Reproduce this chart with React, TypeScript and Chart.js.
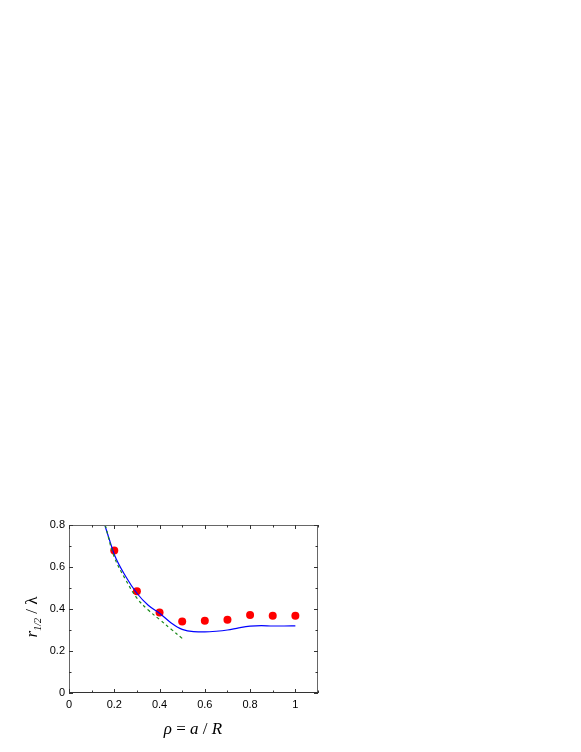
import React, { useEffect, useRef } from "react";
import Chart from "chart.js/auto";

const xTickLabels = ["0", "0.2", "0.4", "0.6", "0.8", "1"];
const yTickLabels = ["0", "0.2", "0.4", "0.6", "0.8"];

const dotX = [0.2, 0.3, 0.4, 0.5, 0.6, 0.7, 0.8, 0.9, 1.0];
const dotY = [0.678, 0.484, 0.383, 0.341, 0.344, 0.349, 0.372, 0.368, 0.368];

const blueX = [0.158, 0.18, 0.2, 0.25, 0.3, 0.35, 0.4, 0.45, 0.5, 0.55, 0.6, 0.65, 0.7, 0.75, 0.8, 0.85, 0.9, 0.95, 1.0];
const blueY = [0.8, 0.725, 0.66, 0.556, 0.475, 0.418, 0.38, 0.335, 0.303, 0.292, 0.291, 0.294, 0.3, 0.31, 0.318, 0.321, 0.319, 0.319, 0.32];

const greenX = [0.16, 0.2, 0.25, 0.3, 0.35, 0.4, 0.45, 0.5];
const greenY = [0.8, 0.648, 0.54, 0.452, 0.395, 0.35, 0.305, 0.26];

const toPts = (xs: number[], ys: number[]) => xs.map((x, i) => ({ x, y: ys[i] }));

const framePlugin = {
  id: "frameTicks",
  afterDraw(chart: any) {
    const { ctx, chartArea: a, scales } = chart;
    const xs = scales.x;
    const ys = scales.y;
    ctx.save();
    ctx.strokeStyle = "#666";
    ctx.lineWidth = 1;
    ctx.strokeRect(a.left + 0.5, a.top + 0.5, a.right - a.left - 1, a.bottom - a.top - 1);
    ctx.strokeStyle = "#333";
    ctx.beginPath();
    ctx.moveTo(a.left, a.bottom - 0.5);
    ctx.lineTo(a.right, a.bottom - 0.5);
    for (let i = 0; i <= 11; i++) {
      const px = Math.round(xs.getPixelForValue(i / 10)) + 0.5;
      const len = i % 2 === 0 ? 4 : 2.5;
      ctx.moveTo(px, a.bottom);
      ctx.lineTo(px, a.bottom - len);
      ctx.moveTo(px, a.top);
      ctx.lineTo(px, a.top + len);
    }
    for (let i = 0; i <= 8; i++) {
      const py = Math.round(ys.getPixelForValue(i / 10)) + 0.5;
      const len = i % 2 === 0 ? 4 : 2.5;
      ctx.moveTo(a.left, py);
      ctx.lineTo(a.left + len, py);
      ctx.moveTo(a.right, py);
      ctx.lineTo(a.right - len, py);
    }
    ctx.stroke();

    // x title
    ctx.fillStyle = "#000";
    ctx.textBaseline = "alphabetic";
    const xParts = [
      { t: "ρ", f: "italic 17px 'Liberation Serif'" },
      { t: " = ", f: "17px 'Liberation Serif'" },
      { t: "a", f: "italic 17px 'Liberation Serif'" },
      { t: " / ", f: "17px 'Liberation Serif'" },
      { t: "R", f: "italic 17px 'Liberation Serif'" },
    ];
    let tw = 0;
    for (const p of xParts) { ctx.font = p.f; tw += ctx.measureText(p.t).width; }
    let cx = 193 - tw / 2;
    for (const p of xParts) {
      ctx.font = p.f;
      ctx.textAlign = "left";
      ctx.fillText(p.t, cx, 734);
      cx += ctx.measureText(p.t).width;
    }

    // y title rotated
    ctx.save();
    ctx.translate(37, 617);
    ctx.rotate(-Math.PI / 2);
    const yParts = [
      { t: "r", f: "italic 17px 'Liberation Serif'", dy: 0 },
      { t: "1/2", f: "italic 10px 'Liberation Serif'", dy: 4 },
      { t: " / ", f: "17px 'Liberation Serif'", dy: 0 },
      { t: "λ", f: "17px 'Liberation Serif'", dy: 0 },
    ];
    tw = 0;
    for (const p of yParts) { ctx.font = p.f; tw += ctx.measureText(p.t).width; }
    cx = -tw / 2;
    for (const p of yParts) {
      ctx.font = p.f;
      ctx.textAlign = "left";
      ctx.fillText(p.t, cx, p.dy);
      cx += ctx.measureText(p.t).width;
    }
    ctx.restore();
    ctx.restore();
  },
};

export default function App() {
  const ref = useRef<HTMLCanvasElement>(null);
  useEffect(() => {
    if (!ref.current) return;
    const chart = new Chart(ref.current, {
      type: "scatter",
      data: {
        datasets: [
          {
            label: "green",
            data: toPts(greenX, greenY),
            showLine: true,
            borderColor: "#1a8a1a",
            borderWidth: 1.2,
            borderDash: [3, 3],
            pointRadius: 0,
            tension: 0.4,
          },
          {
            label: "blue",
            data: toPts(blueX, blueY),
            showLine: true,
            borderColor: "#0000ff",
            borderWidth: 1.2,
            pointRadius: 0,
            cubicInterpolationMode: "monotone",
          },
          {
            label: "dots",
            data: toPts(dotX, dotY),
            showLine: false,
            backgroundColor: "#ff0000",
            borderColor: "#ff0000",
            pointRadius: 4,
            borderWidth: 0,
          },
        ],
      },
      options: {
        responsive: false,
        animation: false,
        layout: { padding: { left: 24, top: 525, right: 263, bottom: 19 } },
        plugins: { legend: { display: false }, tooltip: { enabled: false } },
        scales: {
          x: {
            type: "linear",
            min: 0,
            max: 1.1,
            grid: { display: false, drawTicks: false },
            border: { display: false },
            afterFit: (s: any) => { s.height = 40; },
            ticks: {
              stepSize: 0.1,
              autoSkip: false,
              maxRotation: 0,
              padding: 5,
              color: "#000",
              font: { family: "'Liberation Sans', Arial", size: 11 },
              callback: (v: any) => {
                const k = Math.round(Number(v) * 10);
                return k % 2 === 0 && k <= 10 ? xTickLabels[k / 2] : "";
              },
            },
          },
          y: {
            type: "linear",
            min: 0,
            max: 0.8,
            grid: { display: false, drawTicks: false },
            border: { display: false },
            afterFit: (s: any) => { s.width = 45; },
            ticks: {
              stepSize: 0.1,
              autoSkip: false,
              padding: 4,
              color: "#000",
              font: { family: "'Liberation Sans', Arial", size: 11 },
              callback: (v: any) => {
                const k = Math.round(Number(v) * 10);
                return k % 2 === 0 ? yTickLabels[k / 2] : "";
              },
            },
          },
        },
      },
      plugins: [framePlugin],
    });
    return () => chart.destroy();
  }, []);
  return (
    <div style={{ position: "absolute", left: 0, top: 0 }}>
      <canvas ref={ref} width={581} height={752} style={{ display: "block" }} />
    </div>
  );
}
